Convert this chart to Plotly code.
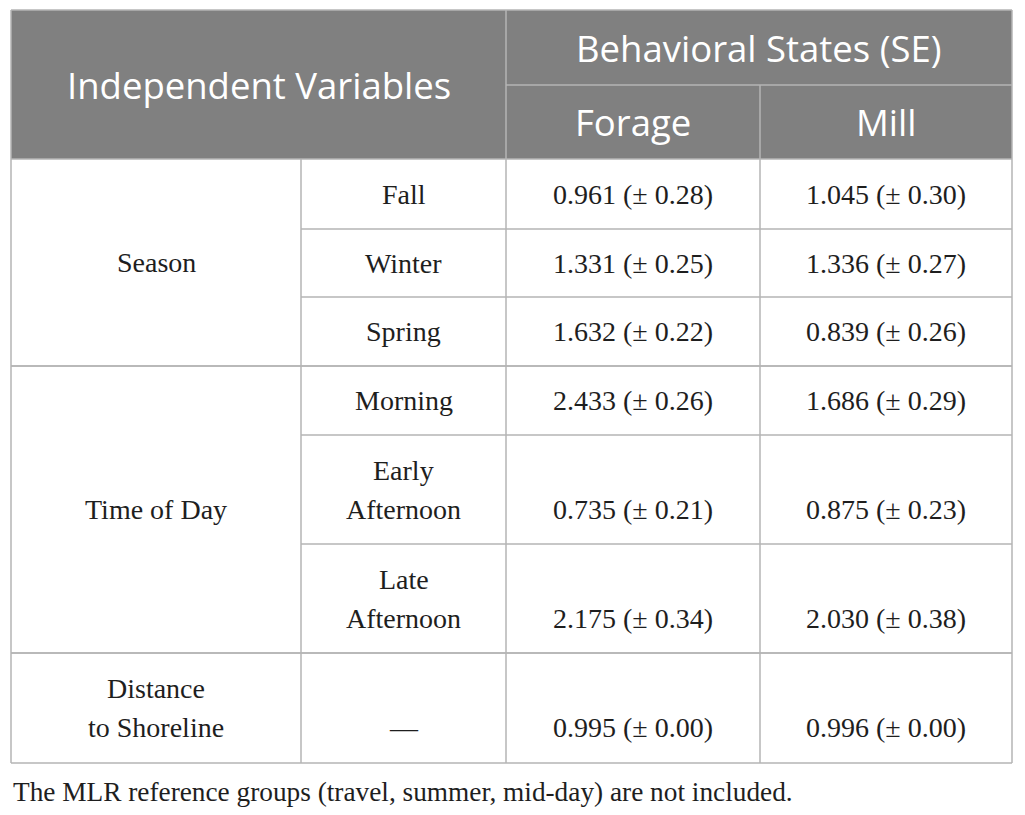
import plotly.graph_objects as go

# table contents
header_left = "Independent Variables"
header_top = "Behavioral States (SE)"
header_cols = ["Forage", "Mill"]

groups = ["Season", "Time of Day", "Distance<br>to Shoreline"]
group_sizes = [3, 3, 1]
levels = ["Fall", "Winter", "Spring", "Morning", "Early<br>Afternoon", "Late<br>Afternoon", "—"]
forage = [0.961, 1.331, 1.632, 2.433, 0.735, 2.175, 0.995]
forage_se = [0.28, 0.25, 0.22, 0.26, 0.21, 0.34, 0.00]
mill = [1.045, 1.336, 0.839, 1.686, 0.875, 2.030, 0.996]
mill_se = [0.30, 0.27, 0.26, 0.29, 0.23, 0.38, 0.00]

footnote = "The MLR reference groups (travel, summer, mid-day) are not included."

# grid geometry (page pixels)
x_edges = [11, 301, 506, 760, 1012]
head_top, head_mid, head_bot = 10, 85, 159
row_edges = [159, 229, 297, 366, 435, 544, 653, 763]
line_gap = 39
page_margin = 8  # default body margin of the html page

line_col = "#b4b4b4"
head_fill = "#808080"
sans = "'Open Sans', Lato, sans-serif"
serif = "'Liberation Serif', 'Times New Roman', serif"
body_size = 28
head_size = 36.5

fig = go.Figure()
shapes = []
annots = []


def hline(y, x0, x1):
    shapes.append(dict(type="line", x0=x0, x1=x1, y0=y, y1=y, xref="x", yref="y",
                       line=dict(color=line_col, width=1.5)))


def vline(x, y0, y1):
    shapes.append(dict(type="line", x0=x, x1=x, y0=y0, y1=y1, xref="x", yref="y",
                       line=dict(color=line_col, width=1.5)))


def text(s, x, y, font, size, color="#1e1e1e", xanchor="center"):
    annots.append(dict(text=s, x=x, y=y, xref="x", yref="y", showarrow=False,
                       xanchor=xanchor, yanchor="middle",
                       font=dict(family=font, size=size, color=color)))


def cell_text(s, x, yc):
    # multi-line labels placed line by line to control spacing
    parts = s.split("<br>")
    n = len(parts)
    for i, p in enumerate(parts):
        text(p, x, yc + (i - (n - 1) / 2) * line_gap, serif, body_size)


# header block
shapes.append(dict(type="rect", x0=x_edges[0], x1=x_edges[-1], y0=head_top, y1=head_bot,
                   xref="x", yref="y", fillcolor=head_fill, line=dict(width=0), layer="below"))
hline(head_top, x_edges[0], x_edges[-1])
hline(head_mid, x_edges[2], x_edges[-1])
vline(x_edges[2], head_top, head_bot)
vline(x_edges[3], head_mid, row_edges[-1])

text(header_left, (x_edges[0] + x_edges[2]) / 2, (head_top + head_bot) / 2, sans, head_size, "white")
text(header_top, (x_edges[2] + x_edges[4]) / 2, (head_top + head_mid) / 2, sans, head_size, "white")
for j, h in enumerate(header_cols):
    text(h, (x_edges[2 + j] + x_edges[3 + j]) / 2, (head_mid + head_bot) / 2, sans, head_size, "white")

# outer borders and body columns
vline(x_edges[0], head_top, row_edges[-1])
vline(x_edges[-1], head_top, row_edges[-1])
vline(x_edges[1], head_bot, row_edges[-1])
vline(x_edges[2], head_bot, row_edges[-1])

# body rows
start = 0
for g, size in zip(groups, group_sizes):
    top = row_edges[start]
    bot = row_edges[start + size]
    hline(top, x_edges[0], x_edges[-1])
    hline(bot, x_edges[0], x_edges[-1])
    g_lines = len(g.split("<br>"))
    cell_text(g, (x_edges[0] + x_edges[1]) / 2, (top + bot) / 2)
    for k in range(start, start + size):
        r0, r1 = row_edges[k], row_edges[k + 1]
        yc = (r0 + r1) / 2
        if k > start:
            hline(r0, x_edges[1], x_edges[-1])
        n = max(len(levels[k].split("<br>")), g_lines if size == 1 else 1)
        base = yc + (n - 1) / 2 * line_gap
        if "<br>" in levels[k]:
            cell_text(levels[k], (x_edges[1] + x_edges[2]) / 2, yc)
        else:
            text(levels[k], (x_edges[1] + x_edges[2]) / 2, base, serif, body_size)
        text(f"{forage[k]:.3f} (± {forage_se[k]:.2f})", (x_edges[2] + x_edges[3]) / 2, base, serif, body_size)
        text(f"{mill[k]:.3f} (± {mill_se[k]:.2f})", (x_edges[3] + x_edges[4]) / 2, base, serif, body_size)
    start += size

text(footnote, x_edges[0], 792, serif, 27.3, xanchor="left")

w, h = 1025 - 2 * page_margin, 815 - 2 * page_margin
fig.update_layout(
    width=w, height=h,
    margin=dict(l=0, r=0, t=0, b=0),
    paper_bgcolor="white", plot_bgcolor="white",
    xaxis=dict(range=[page_margin, page_margin + w], visible=False, fixedrange=True),
    yaxis=dict(range=[page_margin + h, page_margin], visible=False, fixedrange=True),
    shapes=shapes, annotations=annots, showlegend=False,
)

fig.write_html("out.html", config={"displayModeBar": False})
